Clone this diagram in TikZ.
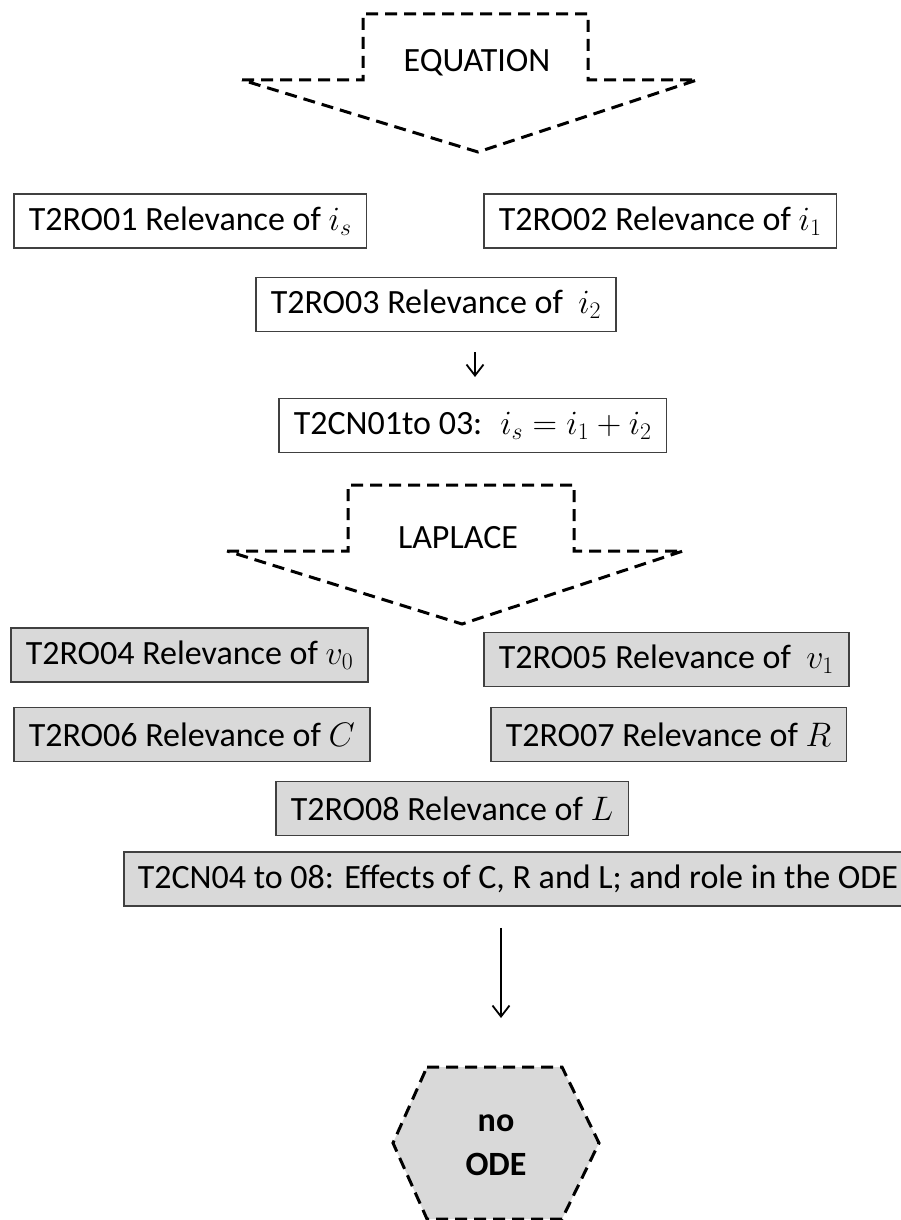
\documentclass[tikz,border=0pt]{standalone}
\usepackage{fix-cm}
\usepackage{fontspec}
\setmainfont{Carlito}
\usetikzlibrary{arrows.meta}

\tikzset{
  rolebox/.style={draw=black!75, line width=1.5pt, minimum height=54pt,
    inner xsep=15pt, inner ysep=0pt, anchor=west},
  shadebox/.style={rolebox, fill=black!15},
  dashline/.style={line width=3pt, dash pattern=on 12pt off 7pt},
  downarrow/.style={line width=1.8pt, -{Straight Barb[length=11pt, width=17pt, line width=1.8pt]}},
}

\begin{document}
\begin{tikzpicture}[x=1pt, y=-1pt, font=\fontsize{34}{40}\selectfont]
\useasboundingbox (0,0) rectangle (900,1220);

% equation block arrow
\node (eqn) at (477,63) {EQUATION};
\draw[dashline] (242,80) -- (363,80) -- (363,14) -- (588,14) -- (588,80) -- (697,80)
  -- (478,152) -- cycle;

% current relevances
\node[rolebox] (ro1) at (13,221) {T2RO01 Relevance of $i_s$};
\node[rolebox] (ro2) at (483,221) {T2RO02 Relevance of $i_1$};
\node[rolebox] (ro3) at (255,304.5) {T2RO03 Relevance of~ $i_2$};
\node[rolebox] (cn1) at (278,425.5) {T2CN01to 03:~ $i_s = i_1 + i_2$};
\coordinate (cntip) at (475,377);
\draw[downarrow, shorten <=20pt] (ro3.south -| cntip) -- (cntip);

% laplace block arrow
\node (lap) at (458,538) {LAPLACE};
\draw[dashline] (227,551) -- (348,551) -- (348,485) -- (574,485) -- (574,551) -- (683,551)
  -- (462,624) -- cycle;

% component relevances
\begin{scope}[every node/.style=shadebox]
\node (ro4) at (10,655) {T2RO04 Relevance of $v_0$};
\node (ro5) at (483,659.5) {T2RO05 Relevance of~ $v_1$};
\node (ro6) at (13,734.5) {T2RO06 Relevance of $C$};
\node (ro7) at (490,734.5) {T2RO07 Relevance of $R$};
\node (ro8) at (275,808.5) {T2RO08 Relevance of $L$};
\node[inner xsep=14pt] (cn2) at (123,879) {T2CN04 to 08: Effects of C, R and L; and role in the ODE};
\end{scope}

% outcome
\coordinate (odetip) at (501,1018);
\draw[downarrow, shorten <=21pt] (cn2.south -| odetip) -- (odetip);
\draw[dashline, fill=black!15] (427,1067) -- (562,1067) -- (599,1143) -- (562,1219)
  -- (427,1219) -- (393,1143) -- cycle;
\node[font=\fontsize{34}{44}\selectfont\bfseries, align=center] (ode) at (496,1145) {no\\ODE};

\end{tikzpicture}
\end{document}
